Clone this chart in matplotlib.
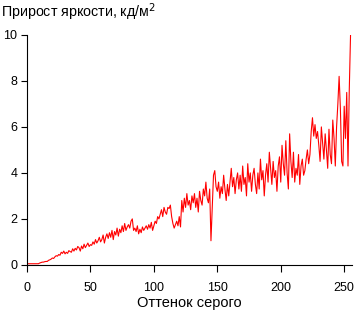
import numpy as np
import matplotlib.pyplot as plt

plt.rcParams['font.family'] = ['Liberation Sans', 'DejaVu Sans']

# Data: brightness increment per gray level

levels = np.arange(256)

delta = [
    0.05, 0.05, 0.05, 0.05, 0.05, 0.05, 0.05, 0.05, 0.05, 0.05, 0.08, 0.1, 0.12, 0.12, 0.14, 0.15,
    0.15, 0.2, 0.22, 0.25, 0.3, 0.28, 0.35, 0.4, 0.38, 0.45, 0.42, 0.55, 0.5, 0.6, 0.48, 0.55,
    0.5, 0.62, 0.58, 0.55, 0.7, 0.6, 0.72, 0.65, 0.8, 0.75, 0.6, 0.82, 0.7, 0.9, 0.75, 0.85,
    0.95, 0.8, 0.88, 0.85, 1.0, 0.9, 1.1, 0.95, 1.05, 1.2, 1.0, 1.1, 1.3, 0.95, 1.2, 1.35,
    1.15, 1.4, 1.2, 1.5, 1.1, 1.45, 1.3, 1.6, 1.25, 1.55, 1.4, 1.7, 1.45, 1.8, 1.5, 1.65,
    1.75, 1.6, 1.9, 2.0, 1.5, 1.6, 1.45, 1.7, 1.35, 1.55, 1.4, 1.65, 1.5, 1.6, 1.7, 1.55,
    1.75, 1.6, 1.85, 1.5, 1.7, 1.9, 1.8, 2.1, 2.0, 2.2, 2.4, 2.1, 2.5, 2.3, 2.2, 2.5,
    2.45, 2.6, 2.1, 1.8, 1.6, 1.75, 1.9, 1.7, 2.1, 1.65, 2.8, 2.3, 2.9, 2.5, 3.1, 2.6,
    2.8, 2.4, 3.0, 2.7, 3.1, 2.5, 2.9, 2.3, 3.2, 2.8, 2.6, 3.3, 3.0, 3.6, 2.9, 2.7,
    3.3, 1.05, 2.5, 3.9, 4.1, 3.4, 3.2, 3.6, 2.9, 3.4, 3.1, 3.9, 3.3, 2.8, 3.5, 3.0,
    3.6, 4.2, 3.4, 3.8, 3.1, 3.7, 4.0, 3.3, 3.9, 3.2, 4.3, 3.5, 3.8, 3.0, 4.4, 3.6,
    4.0, 3.2, 3.9, 4.2, 3.5, 3.1, 4.0, 3.3, 4.6, 3.7, 4.1, 3.0, 3.9, 4.4, 3.6, 4.9,
    4.2, 3.5, 4.5, 3.8, 4.1, 3.2, 4.3, 4.7, 3.6, 5.2, 4.4, 3.9, 5.4, 4.0, 3.3, 5.7,
    4.5, 3.8, 4.9, 3.6, 4.2, 3.9, 4.8, 3.5, 4.3, 4.6, 3.9, 4.1, 4.6, 5.0, 4.4, 4.8,
    5.8, 6.4, 5.6, 6.1, 5.5, 5.8, 5.2, 4.5, 6.0, 5.3, 4.6, 5.7, 5.0, 4.2, 5.9, 4.8,
    4.4, 6.3, 5.5, 4.3, 6.0, 7.0, 8.2, 6.8, 4.5, 4.3, 6.9, 5.5, 7.5, 4.3, 7.6, 10.0,
]

xticks = [0, 50, 100, 150, 200, 250]
yticks = [0, 2, 4, 6, 8, 10]

# Canvas

fig = plt.figure(figsize=(3.55, 3.12), dpi=100)
ax = fig.add_axes((0.076, 0.151, 0.915, 0.737))

ax.plot(levels, delta, color="red", linewidth=0.8)

ax.set_xlim(0, 256)
ax.set_ylim(0, 10)
ax.set_xticks(xticks)
ax.set_yticks(yticks)

ax.spines["top"].set_visible(False)
ax.spines["right"].set_visible(False)
ax.tick_params(direction="out", length=4, labelsize=9, colors="black")
ax.tick_params(axis="x", length=5, pad=7)
ax.tick_params(axis="y", pad=3)

ax.set_xlabel("Оттенок серого", fontsize=10.5, labelpad=2)
fig.text(0.003, 0.962, "Прирост яркости, кд/м$^2$", fontsize=10.3, ha="left", va="center")

fig.savefig("out.png", dpi=100)
